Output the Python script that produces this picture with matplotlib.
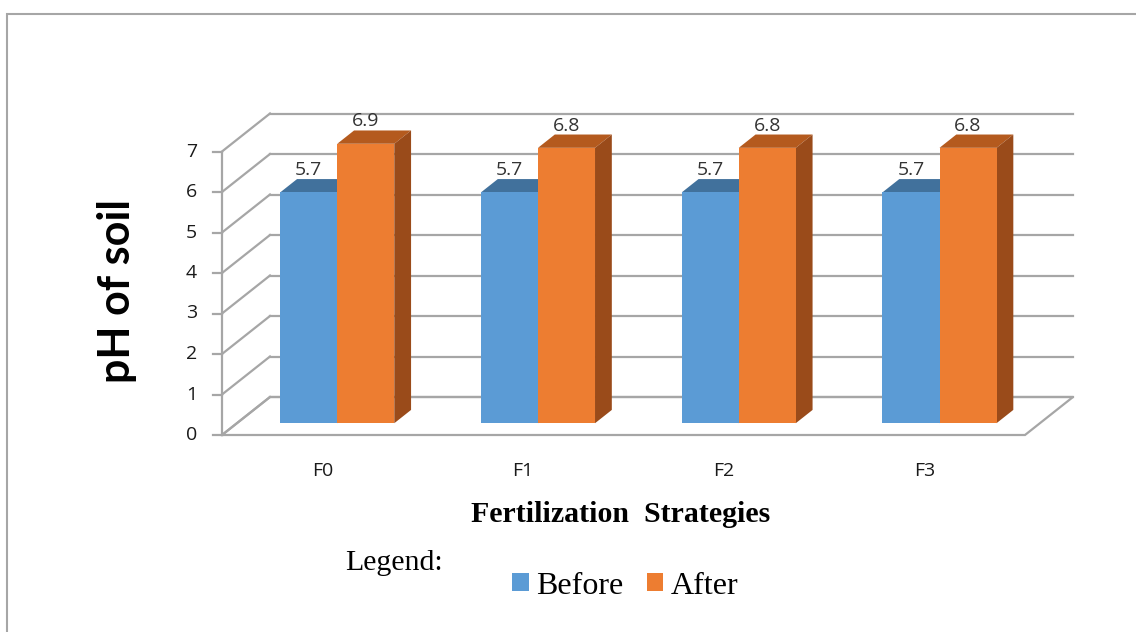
import matplotlib
matplotlib.use('Agg')
import matplotlib.pyplot as plt
from matplotlib.patches import Polygon, Rectangle, Patch
from matplotlib.lines import Line2D

# ---------------- data ----------------
categories = ['F0', 'F1', 'F2', 'F3']
before = [5.7, 5.7, 5.7, 5.7]
after = [6.9, 6.8, 6.8, 6.8]
series_names = ['Before', 'After']
yticks = [0, 1, 2, 3, 4, 5, 6, 7]
ylabel = 'pH of soil'
xlabel = 'Fertilization  Strategies'

# ---------------- style ----------------
front_cols = ['#5B9BD5', '#ED7D31']
top_cols = ['#41719C', '#B45A1E']
side_cols = ['#3C6A94', '#9A4B1A']
grid_col = '#A6A6A6'
txt_col = '#404040'

W, H = 1136, 632
fig = plt.figure(figsize=(W / 100, H / 100), dpi=100)

# axes placement in pixels (top-origin) and pixel scale of the data units
ax_l, ax_r, ax_t, ax_b = 150, 1110, 90, 500
PX_X, PX_Y = 200.75, 40.5
X0, Y0 = 222, 435
ax = fig.add_axes([ax_l / W, 1 - ax_b / H, (ax_r - ax_l) / W, (ax_b - ax_t) / H])
ax.set_xlim((ax_l - X0) / PX_X, (ax_r - X0) / PX_X)
ax.set_ylim((Y0 - ax_b) / PX_Y, (Y0 - ax_t) / PX_Y)
ax.axis('off')

# oblique depth projection (depth d in [0, 1])
DX, DY = 48 / PX_X, 38 / PX_Y


def P(x, y, d):
    return (x + d * DX, y + d * DY)


n = len(categories)
ytop = max(yticks)
lw = 1.6

# floor
ax.add_patch(Polygon([P(0, 0, 0), P(n, 0, 0), P(n, 0, 1), P(0, 0, 1)],
                     closed=True, facecolor='white', edgecolor=grid_col, lw=lw, zorder=1))
# back wall gridlines and side wall lines
for t in yticks:
    a, b = P(0, t, 1), P(n, t, 1)
    ax.add_line(Line2D([a[0], b[0]], [a[1], b[1]], color=grid_col, lw=lw, zorder=2))
    a, b = P(0, t, 0), P(0, t, 1)
    ax.add_line(Line2D([a[0], b[0]], [a[1], b[1]], color=grid_col, lw=lw, zorder=2))
    # tick mark
    ax.add_line(Line2D([-9 / PX_X, 0], [t, t], color=grid_col, lw=lw, zorder=2))
    ax.text(-25 / PX_X, t, str(t), ha='right', va='center', fontsize=14,
            family='Open Sans', color='#1a1a1a')
# front vertical axis
ax.add_line(Line2D([0, 0], [0, ytop], color=grid_col, lw=lw, zorder=2))

# bars
d0, d1 = 0.31, 0.66
w = 0.284
series = [before, after]
for i in range(n):
    for s, vals in enumerate(series):
        v = vals[i]
        xl = i + 0.5 - w + s * w
        xr = xl + w
        ax.bar(xl + d0 * DX, v, width=w, bottom=d0 * DY, align='edge',
               color=front_cols[s], edgecolor='none', zorder=5 + s)
        ax.add_patch(Polygon([P(xl, v, d0), P(xr, v, d0), P(xr, v, d1), P(xl, v, d1)],
                             closed=True, facecolor=top_cols[s], edgecolor='none', zorder=4 + s))
        ax.add_patch(Polygon([P(xr, 0, d0), P(xr, 0, d1), P(xr, v, d1), P(xr, v, d0)],
                             closed=True, facecolor=side_cols[s], edgecolor='none', zorder=4 + s))
        lx, ly = P(xl + w / 2, v, d1)
        ax.annotate(f'{v:.1f}', (xl + w / 2 + d0 * DX, ly), xytext=(0, 0),
                    textcoords='offset points', ha='center', va='bottom',
                    fontsize=14, family='Open Sans', color='#333333', zorder=10)
    ax.text(i + 0.5, (Y0 - 471) / PX_Y, categories[i], ha='center', va='center',
            fontsize=14, family='Open Sans', color='#1a1a1a')

# axis titles
fig.text(117 / W, 1 - 291 / H, ylabel, rotation=90, ha='center', va='center',
         fontsize=31, family='Lato', fontweight='bold', color='black')
fig.text(621 / W, 1 - 515 / H, xlabel, ha='center', va='center',
         fontsize=21.5, family='Liberation Serif', fontweight='bold', color='black')

# legend
fig.text(345 / W, 1 - 570 / H, 'Legend:', ha='left', va='baseline',
         fontsize=21.5, family='Liberation Serif', color='black')
handles = [Patch(facecolor=front_cols[k], edgecolor='none') for k in range(2)]
fig.legend(handles, series_names, loc='center left', bbox_to_anchor=(512 / W, 1 - 586 / H),
           ncol=2, frameon=False, borderpad=0, borderaxespad=0,
           handlelength=0.52, handleheight=0.52, handletextpad=0.22, columnspacing=0.75,
           prop={'family': 'Liberation Serif', 'size': 23})

# outer border
fig.patches.append(Rectangle((7 / W, -0.2), 1.5, 1 - 14 / H + 0.2, transform=fig.transFigure,
                             fill=False, edgecolor='#A6A6A6', lw=1.5))

fig.savefig('out.png', dpi=100)
